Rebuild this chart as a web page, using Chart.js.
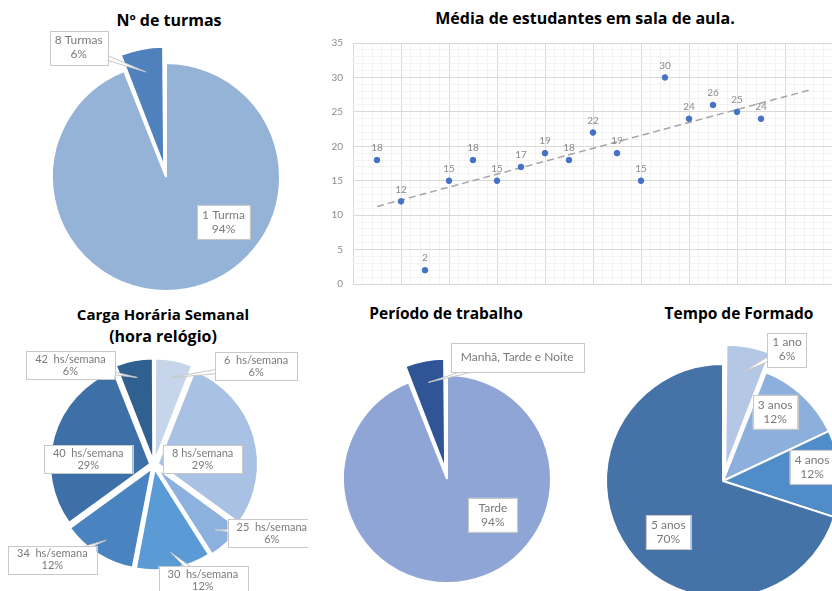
<!DOCTYPE html>
<html>
<head>
<meta charset="utf-8">
<script src="https://cdn.jsdelivr.net/npm/chart.js@4.4.1/dist/chart.umd.min.js"></script>
<style>
  body { margin: 0; width: 832px; height: 591px; overflow: hidden; background: #fff; position: relative; }
  canvas { position: absolute; }
  .titulo { position: absolute; font: bold 16px "Open Sans", sans-serif; color: #000; text-align: center; white-space: nowrap; line-height: 20px; }
</style>
</head>
<body>
<div class="titulo" style="left:69px;top:10px;width:200px">Nº de turmas</div>
<div class="titulo" style="left:435px;top:8px;width:300px">Média de estudantes em sala de aula.</div>
<div class="titulo" style="left:43px;top:303px;width:240px;line-height:22px"><span style="font-size:15px">Carga Horária Semanal</span><br>(hora relógio)</div>
<div class="titulo" style="left:346px;top:303px;width:200px;font-size:15.5px">Período de trabalho</div>
<div class="titulo" style="left:639px;top:303px;width:200px;font-size:15.5px">Tempo de Formado</div>

<canvas id="turmas" width="320" height="320" style="left:6px;top:17px"></canvas>
<canvas id="media" width="540" height="300" style="left:300px;top:0px"></canvas>
<canvas id="carga" width="308" height="300" style="left:0px;top:315px"></canvas>
<canvas id="periodo" width="300" height="280" style="left:297px;top:339px"></canvas>
<canvas id="formado" width="260" height="300" style="left:593px;top:331px"></canvas>

<script>
// --- dados ---
const turmasCategorias = ["1 Turma", "8 Turmas"];
const turmasValores = [94, 6];

const mediaAlunos = [18, 12, 2, 15, 18, 15, 17, 19, 18, 22, 19, 15, 30, 24, 26, 25, 24];
const ticksY = [0, 5, 10, 15, 20, 25, 30, 35];

const cargaCategorias = ["6  hs/semana", "8 hs/semana", "25  hs/semana", "30  hs/semana", "34  hs/semana", "40  hs/semana", "42  hs/semana"];
const cargaValores = [6, 29, 6, 12, 12, 29, 6];

const periodoCategorias = ["Tarde", "Manhã, Tarde e Noite"];
const periodoValores = [94, 6];

const formadoCategorias = ["1 ano", "3 anos", "4 anos", "5 anos"];
const formadoValores = [6, 12, 12, 70];

// rótulos em caixa branca, posição em [ângulo a partir do topo, fração do raio]
const rotulosPlugin = {
  id: "rotulos",
  afterDatasetsDraw(chart, args, opts) {
    const ctx = chart.ctx;
    const meta = chart.getDatasetMeta(0);
    const valores = chart.data.datasets[0].data;
    const total = valores.reduce((a, b) => a + b, 0);
    const linhaH = opts.linha || 14;
    const padX = opts.padX || 5;
    const padY = opts.padY || 3;
    ctx.save();
    ctx.font = opts.fonte || "12px Lato";
    meta.data.forEach((arc, i) => {
      const [ang, rf] = opts.pos[i];
      const a = (ang - 90) * Math.PI / 180;
      const cx = arc.x + Math.cos(a) * arc.outerRadius * rf;
      const cy = arc.y + Math.sin(a) * arc.outerRadius * rf;
      const linhas = [chart.data.labels[i]];
      if (!(opts.semPct && opts.semPct[i])) linhas.push(Math.round(valores[i] / total * 100) + "%");
      const larg = Math.max(...linhas.map((l) => ctx.measureText(l).width)) + 2 * padX;
      const alt = Math.max(linhas.length * linhaH + 2 * padY, opts.altMin || 0);
      const bx = cx - larg / 2;
      const by = cy - alt / 2;

      if (rf > 1) {
        const meio = (arc.startAngle + arc.endAngle) / 2;
        const desl = (arc.options.offset || 0) / 4;
        const ax = arc.x + Math.cos(meio) * (arc.outerRadius * 0.85 + desl);
        const ay = arc.y + Math.sin(meio) * (arc.outerRadius * 0.85 + desl);
        const ang2 = Math.atan2(ay - cy, ax - cx);
        const nx = -Math.sin(ang2) * 4;
        const ny = Math.cos(ang2) * 4;
        ctx.beginPath();
        ctx.moveTo(cx + nx, cy + ny);
        ctx.lineTo(ax, ay);
        ctx.lineTo(cx - nx, cy - ny);
        ctx.closePath();
        ctx.fillStyle = "#fff";
        ctx.fill();
        ctx.strokeStyle = "#c8c8c8";
        ctx.lineWidth = 1;
        ctx.stroke();
      }

      ctx.fillStyle = "#fff";
      ctx.fillRect(bx, by, larg, alt);
      ctx.strokeStyle = "#c8c8c8";
      ctx.lineWidth = 1;
      ctx.strokeRect(Math.round(bx) + 0.5, Math.round(by) + 0.5, Math.round(larg), Math.round(alt));
      ctx.fillStyle = "#7a7a7a";
      ctx.textAlign = "center";
      ctx.textBaseline = "middle";
      const y0 = cy - (linhas.length * linhaH) / 2 + linhaH / 2;
      linhas.forEach((l, k) => {
        ctx.fillText(l, cx, y0 + k * linhaH);
      });
    });
    ctx.restore();
  },
};

function criarPizza(id, categorias, valores, cores, deslocamentos, raio, rotulos) {
  return new Chart(document.getElementById(id), {
    type: "pie",
    data: {
      labels: categorias,
      datasets: [
        {
          data: valores,
          backgroundColor: cores,
          offset: deslocamentos,
          borderColor: "#fff",
          borderWidth: 2,
        },
      ],
    },
    options: {
      responsive: false,
      animation: false,
      radius: raio,
      layout: { padding: 0 },
      plugins: {
        legend: { display: false },
        tooltip: { enabled: false },
        rotulos: rotulos,
      },
    },
    plugins: [rotulosPlugin],
  });
}

criarPizza("turmas", turmasCategorias, turmasValores,
  ["#95b3d7", "#4f81bd"], [0, 40], 114,
  { pos: [[128, 0.64], [326, 1.37]] });

criarPizza("carga", cargaCategorias, cargaValores,
  ["#c6d5ea", "#a9c2e3", "#8db1de", "#5b9bd5", "#4a84c0", "#3e70a8", "#30608f"],
  [16, 16, 16, 16, 16, 16, 16], 100,
  { pos: [[46, 1.42], [83, 0.49], [120, 1.36], [157, 1.25], [227, 1.39], [275, 0.66], [320, 1.3]],
    fonte: "11px Lato", linha: 12, padX: 9, padY: 2 });

criarPizza("periodo", periodoCategorias, periodoValores,
  ["#8ea5d6", "#2f5597"], [0, 40], 104,
  { pos: [[128, 0.56], [30, 1.35]], semPct: [false, true], padX: 10, altMin: 29 });

criarPizza("formado", formadoCategorias, formadoValores,
  ["#b4c8e6", "#8cafdc", "#508cc8", "#4573a8"], [48, 0, 0, 0], 117,
  { pos: [[26, 1.25], [37, 0.74], [81, 0.77], [227, 0.64]] });

// --- dispersão com linha de tendência ---
const pontos = mediaAlunos.map((v, i) => ({ x: i + 1, y: v }));
const n = pontos.length;
const mx = pontos.reduce((s, p) => s + p.x, 0) / n;
const my = pontos.reduce((s, p) => s + p.y, 0) / n;
let sxy = 0, sxx = 0;
for (let p of pontos) {
  sxy += (p.x - mx) * (p.y - my);
  sxx += (p.x - mx) * (p.x - mx);
}
const inclinacao = sxy / sxx;
const intercepto = my - inclinacao * mx;
const xFimTendencia = n + 2;
const tendencia = [1, xFimTendencia].map((x) => ({ x: x, y: intercepto + inclinacao * x }));

const valoresPlugin = {
  id: "valores",
  afterDatasetsDraw(chart) {
    const ctx = chart.ctx;
    const meta = chart.getDatasetMeta(0);
    ctx.save();
    ctx.font = "10px Lato";
    ctx.fillStyle = "#8a8a8a";
    ctx.textAlign = "center";
    ctx.textBaseline = "middle";
    meta.data.forEach((pt, i) => {
      ctx.fillText(chart.data.datasets[0].data[i].y, pt.x, pt.y - 12);
    });
    ctx.restore();
  },
};

new Chart(document.getElementById("media"), {
  type: "scatter",
  data: {
    datasets: [
      {
        data: pontos,
        backgroundColor: "#4472c4",
        borderColor: "#4472c4",
        pointRadius: 2.8,
      },
      {
        type: "line",
        data: tendencia,
        borderColor: "#a6a6a6",
        borderWidth: 1.5,
        borderDash: [7, 4],
        pointRadius: 0,
        fill: false,
      },
    ],
  },
  options: {
    responsive: false,
    animation: false,
    layout: { padding: { top: 43, right: 7, bottom: 13, left: 0 } },
    plugins: { legend: { display: false }, tooltip: { enabled: false } },
    scales: {
      x: {
        type: "linear",
        min: 0,
        max: 20,
        afterBuildTicks: (scale) => {
          scale.ticks = [];
          for (let k = 0; k <= 50; k++) scale.ticks.push({ value: k * 0.4 });
        },
        afterFit: (scale) => { scale.height = 0; },
        ticks: { display: false },
        border: { display: false },
        grid: {
          drawTicks: false,
          color: (c) => {
            const v = c.tick.value / 2;
            return Math.abs(v - Math.round(v)) < 1e-6 ? "#d9d9d9" : "#f3f3f3";
          },
        },
      },
      y: {
        min: 0,
        max: 35,
        afterFit: (scale) => { scale.width = 53; },
        border: { display: false },
        ticks: {
          stepSize: 1,
          autoSkip: false,
          padding: 10,
          color: "#8c8c8c",
          font: { family: "Lato", size: 10 },
          callback: (v) => (ticksY.includes(v) ? v : ""),
        },
        grid: {
          drawTicks: false,
          color: (c) => (ticksY.includes(c.tick.value) ? "#d9d9d9" : "#f3f3f3"),
        },
      },
    },
  },
  plugins: [valoresPlugin],
});
</script>
</body>
</html>
